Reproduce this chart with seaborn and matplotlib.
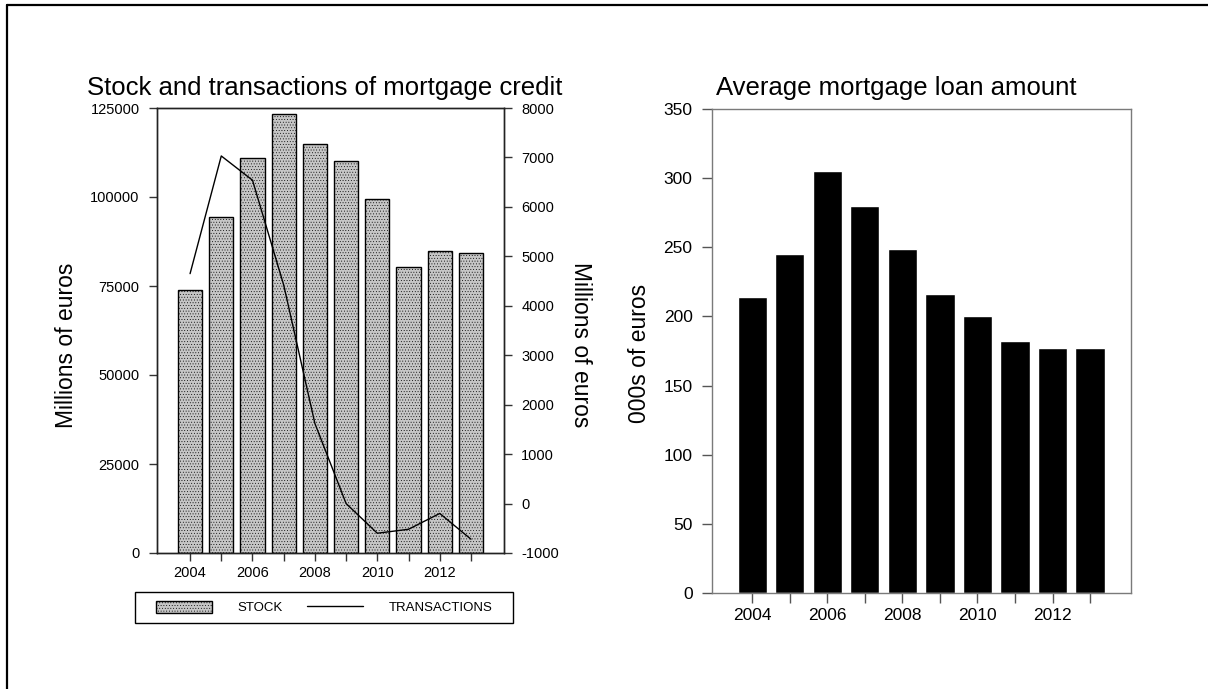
import pandas as pd
import matplotlib.pyplot as plt
import seaborn as sns
from matplotlib.patches import Patch, Rectangle
from matplotlib.lines import Line2D

# Data
years = [2004, 2005, 2006, 2007, 2008, 2009, 2010, 2011, 2012, 2013]
stock = [73800, 94500, 111000, 123400, 114800, 110000, 99400, 80200, 84700, 84300]
transactions = [4650, 7030, 6540, 4420, 1620, 0, -600, -520, -200, -720]
avg_loan = [214, 245, 305, 280, 249, 216, 200, 182, 177, 177]
year_labels = ['2004', '', '2006', '', '2008', '', '2010', '', '2012', '']

sns.set_style('white')
plt.rcParams['font.family'] = ['Liberation Sans', 'DejaVu Sans']
plt.rcParams['axes.unicode_minus'] = False
plt.rcParams['text.color'] = 'black'
plt.rcParams['xtick.labelcolor'] = 'black'
plt.rcParams['ytick.labelcolor'] = 'black'
plt.rcParams['hatch.color'] = '#8a8a8a'
plt.rcParams['hatch.linewidth'] = 0.3

df = pd.DataFrame({'year': years, 'stock': stock,
                   'transactions': transactions, 'avg_loan': avg_loan})

fig = plt.figure(figsize=(12.08, 6.89), dpi=100)

# outer frame (only left and top edges visible in the reference)
fig.add_artist(Line2D([7 / 1208, 7 / 1208], [0, 1 - 5 / 689], color='black', lw=1.6))
fig.add_artist(Line2D([7 / 1208, 1], [1 - 5 / 689, 1 - 5 / 689], color='black', lw=1.6))

bar_grey = '#c6c6c6'

# ---- Left panel: stock (bars) and transactions (line)
ax1 = fig.add_axes([157 / 1208, 1 - 553 / 689, 347 / 1208, 445 / 689])
sns.barplot(data=df, x='year', y='stock', native_scale=True, width=0.77,
            color=bar_grey, edgecolor='black', linewidth=1.0, hatch='......',
            saturation=1, ax=ax1)
ax1.set_xlim(2002.94, 2014.06)
ax1.set_ylim(0, 125000)
ax1.set_yticks([0, 25000, 50000, 75000, 100000, 125000])
ax1.set_xticks(years)
ax1.set_xticklabels(year_labels)
ax1.set_xlabel('')
ax1.set_ylabel('')

ax2 = ax1.twinx()
sns.lineplot(data=df, x='year', y='transactions', color='black', lw=1.0, ax=ax2)
ax2.set_ylim(-1000, 8000)
ax2.set_yticks(range(-1000, 8001, 1000))
ax2.set_ylabel('')

for a in (ax1, ax2):
    for s in a.spines.values():
        s.set_color('#222222')
        s.set_linewidth(1.0)
    a.tick_params(axis='both', which='both', direction='out', length=5.5, width=1,
                  color='#333333', labelcolor='black', labelsize=10.5, pad=7,
                  bottom=True)
    a.tick_params(axis='x', pad=4)
ax2.tick_params(axis='y', right=True, left=False)
ax1.tick_params(axis='y', left=True, right=False)

fig.text(87 / 1208, 1 - 95 / 689, 'Stock and transactions of mortgage credit',
         fontsize=18.5, ha='left', va='baseline')
fig.text(66.5 / 1208, 1 - 345 / 689, 'Millions of euros', fontsize=16.5,
         rotation=90, ha='center', va='center')
fig.text(580 / 1208, 1 - 345 / 689, 'Millions of euros', fontsize=16.5,
         rotation=270, ha='center', va='center')

# legend box drawn by hand, entries placed inside it
fig.add_artist(Rectangle((135 / 1208, 1 - 623 / 689), 378 / 1208, 31 / 689,
                         transform=fig.transFigure, fill=False,
                         edgecolor='black', lw=1.0))
handles = [Patch(facecolor=bar_grey, edgecolor='black', hatch='......', lw=1.0),
           Line2D([], [], color='black', lw=1.0)]
fig.legend(handles, ['STOCK', 'TRANSACTIONS'], ncol=2, loc='center',
           bbox_to_anchor=(324 / 1208, 1 - 607.5 / 689),
           fontsize=9.5, frameon=False, handlelength=4.25, handleheight=1.1,
           handletextpad=1.95, columnspacing=1.8, borderaxespad=0, borderpad=0)

# ---- Right panel: average loan amount
ax3 = fig.add_axes([712 / 1208, 1 - 593 / 689, 419 / 1208, 484 / 689])
sns.barplot(data=df, x='year', y='avg_loan', native_scale=True, width=0.78,
            color='black', saturation=1, ax=ax3)
ax3.set_xlim(2002.93, 2014.09)
ax3.set_ylim(0, 350)
ax3.set_yticks(range(0, 351, 50))
ax3.set_xticks(years)
ax3.set_xticklabels(year_labels)
ax3.set_xlabel('')
ax3.set_ylabel('')
for s in ax3.spines.values():
    s.set_color('#7a7a7a')
    s.set_linewidth(1.0)
ax3.tick_params(axis='both', direction='out', length=7, width=1, color='#555555',
                labelcolor='black', labelsize=12.5, pad=7, bottom=True, left=True)
ax3.tick_params(axis='x', pad=4)

fig.text(716 / 1208, 1 - 95 / 689, 'Average mortgage loan amount',
         fontsize=18.5, ha='left', va='baseline')
fig.text(640 / 1208, 1 - 353 / 689, '000s of euros', fontsize=16.5,
         rotation=90, ha='center', va='center')

fig.savefig('out.png', dpi=100)
